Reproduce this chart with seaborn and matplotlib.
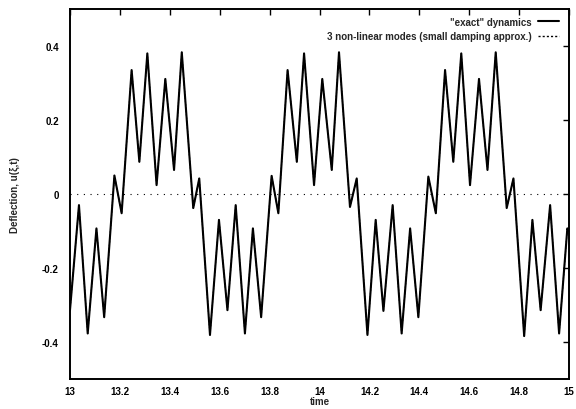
import matplotlib
matplotlib.use("Agg")
import matplotlib.pyplot as plt
import matplotlib.ticker as mticker
import pandas as pd
import seaborn as sns

# extrema of the response
time = [13.000, 13.036, 13.071, 13.106, 13.137, 13.178, 13.207, 13.247, 13.278, 13.310,
        13.347, 13.382, 13.417, 13.448, 13.494, 13.518, 13.561, 13.597, 13.631, 13.664,
        13.701, 13.733, 13.766, 13.808, 13.835, 13.872, 13.909, 13.938, 13.978, 14.011,
        14.049, 14.078, 14.122, 14.149, 14.192, 14.225, 14.256, 14.293, 14.329, 14.363,
        14.396, 14.436, 14.466, 14.503, 14.536, 14.568, 14.603, 14.639, 14.673, 14.706,
        14.750, 14.777, 14.820, 14.853, 14.886, 14.924, 14.960, 14.993, 15.000]
deflection = [-0.314, -0.030, -0.377, -0.093, -0.333, 0.050, -0.052, 0.335, 0.087, 0.380,
              0.024, 0.311, 0.065, 0.383, -0.038, 0.042, -0.381, -0.070, -0.314, -0.030,
              -0.377, -0.093, -0.333, 0.049, -0.052, 0.335, 0.087, 0.380, 0.024, 0.311,
              0.065, 0.383, -0.035, 0.042, -0.381, -0.070, -0.316, -0.030, -0.377, -0.093,
              -0.333, 0.047, -0.052, 0.335, 0.087, 0.380, 0.024, 0.311, 0.065, 0.383,
              -0.038, 0.042, -0.384, -0.070, -0.314, -0.030, -0.377, -0.093, -0.100]

x_ticks = [13, 13.2, 13.4, 13.6, 13.8, 14, 14.2, 14.4, 14.6, 14.8, 15]
y_ticks = [-0.4, -0.2, 0, 0.2, 0.4]

sns.set_theme(style="white")
plt.rcParams["font.family"] = ["Liberation Sans", "DejaVu Sans"]

df = pd.DataFrame({"time": time, "u": deflection})

fig = plt.figure(figsize=(5.76, 4.10), dpi=100)
ax = fig.add_axes([0.1215, 0.0732, 0.8665, 0.9024])

# gnuplot-style dotted zero axis
ax.axhline(0, color="black", linewidth=0.8, linestyle=(0, (1, 5)), zorder=1)

sns.lineplot(data=df, x="time", y="u", color="black", linewidth=1.5,
             label='"exact" dynamics', ax=ax, zorder=3)
# the 3-mode approximation lies on top of the exact curve
sns.lineplot(data=df, x="time", y="u", color="black", linewidth=0.8,
             linestyle=(0, (1.5, 1.5)), label="3 non-linear modes (small damping approx.)",
             ax=ax, zorder=2)

ax.set_xlim(13, 15)
ax.set_ylim(-0.5, 0.5)
ax.set_xticks(x_ticks)
ax.set_yticks(y_ticks)
ax.xaxis.set_major_formatter(mticker.FormatStrFormatter("%g"))
ax.yaxis.set_major_formatter(mticker.FormatStrFormatter("%g"))
ax.tick_params(direction="in", length=4, width=1, top=True, right=True,
               labelsize=7, colors="black")
ax.tick_params(axis="y", pad=8)
ax.tick_params(axis="x", pad=5)
for lab in ax.get_xticklabels() + ax.get_yticklabels():
    lab.set_fontweight("bold")
for sp in ax.spines.values():
    sp.set_linewidth(1.4)
    sp.set_color("black")

ax.set_xlabel("time", fontsize=7, fontweight="bold", labelpad=0)
ax.set_ylabel("Deflection, u(\u03be,t)", fontsize=7, fontweight="bold", labelpad=16)

# markerfirst=False right-aligns the rows, gnuplot style
leg = ax.legend(loc="upper right", bbox_to_anchor=(0.992, 0.995), frameon=False,
                markerfirst=False, fontsize=7, handlelength=2.2, handletextpad=0.6,
                labelspacing=0.45, borderaxespad=0.2)
leg.get_lines()[1].set_linewidth(1.0)
for t in leg.get_texts():
    t.set_fontweight("bold")

fig.savefig("out.png", dpi=100)
